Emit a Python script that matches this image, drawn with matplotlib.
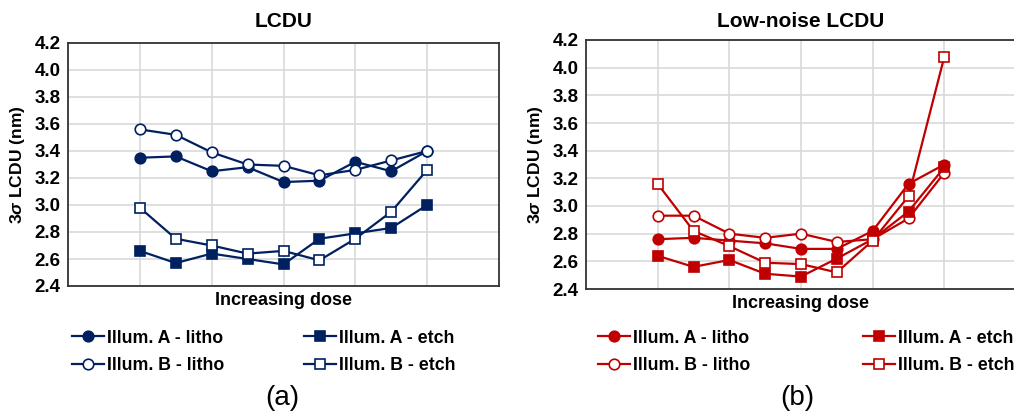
import matplotlib.pyplot as plt

# dose steps (no labels drawn, just positions along the x axis)
dose_steps = list(range(9))

# LCDU panel (nm)
lcdu_a_litho = [3.35, 3.36, 3.25, 3.28, 3.17, 3.18, 3.32, 3.25, 3.40]
lcdu_b_litho = [3.56, 3.52, 3.39, 3.30, 3.29, 3.22, 3.26, 3.33, 3.40]
lcdu_a_etch = [2.66, 2.57, 2.64, 2.60, 2.56, 2.75, 2.79, 2.83, 3.00]
lcdu_b_etch = [2.98, 2.75, 2.70, 2.64, 2.66, 2.59, 2.75, 2.95, 3.26]

# low-noise LCDU panel (nm)
ln_a_litho = [2.76, 2.77, 2.75, 2.73, 2.69, 2.69, 2.82, 3.16, 3.30]
ln_b_litho = [2.93, 2.93, 2.80, 2.77, 2.80, 2.74, 2.76, 2.91, 3.24]
ln_a_etch = [2.64, 2.56, 2.61, 2.51, 2.49, 2.62, 2.76, 2.96, 3.28]
ln_b_etch = [3.16, 2.82, 2.71, 2.59, 2.58, 2.52, 2.75, 3.07, 4.08]

series_labels = ['Illum. A - litho', 'Illum. B - litho', 'Illum. A - etch', 'Illum. B - etch']
y_ticks = [2.4, 2.6, 2.8, 3.0, 3.2, 3.4, 3.6, 3.8, 4.0, 4.2]

plt.rcParams['font.family'] = 'Liberation Sans'
plt.rcParams['mathtext.fontset'] = 'custom'
plt.rcParams['mathtext.rm'] = 'Liberation Sans:bold'
plt.rcParams['mathtext.it'] = 'Liberation Sans:italic:bold'

fig = plt.figure(figsize=(10.14, 4.15), dpi=100)
W, H = 1014, 415


def px_axes(x0, y0, x1, y1):
    return fig.add_axes([x0 / W, 1 - y1 / H, (x1 - x0) / W, (y1 - y0) / H])


def draw_panel(ax, data, color, title, title_pad):
    styles = [('o', color), ('o', 'white'), ('s', color), ('s', 'white')]
    handles = []
    for vals, (mk, face), lab in zip(data, styles, series_labels):
        h, = ax.plot(dose_steps, vals, color=color, lw=1.6, marker=mk,
                     markersize=7.6 if mk == 'o' else 7.0, markerfacecolor=face,
                     markeredgecolor=color, markeredgewidth=1.2, label=lab,
                     zorder=3)
        handles.append(h)
    ax.set_xlim(-2, 10)
    ax.set_ylim(2.4, 4.2)
    ax.set_yticks(y_ticks)
    ax.set_yticklabels(['%.1f' % t for t in y_ticks], fontsize=13.5, fontweight='bold')
    ax.set_xticks([0, 2, 4, 6, 8])
    ax.set_xticklabels([])
    ax.tick_params(length=0, pad=5.5)
    ax.grid(True, color='#d9d9d9', lw=1.2)
    ax.set_axisbelow(True)
    for s in ax.spines.values():
        s.set_color('#333333')
        s.set_linewidth(1.3)
    ax.set_title(title, fontsize=15, fontweight='bold', pad=title_pad)
    ax.set_xlabel('Increasing dose', fontsize=13, fontweight='bold', labelpad=-1)
    ax.set_ylabel(r'3$\sigma$ LCDU (nm)', fontsize=12.6, fontweight='bold', labelpad=5)
    return handles


ax1 = px_axes(68, 43, 499, 286)
h1 = draw_panel(ax1, [lcdu_a_litho, lcdu_b_litho, lcdu_a_etch, lcdu_b_etch],
                '#002060', 'LCDU', 11.5)

ax2 = px_axes(586, 40, 1016, 289)
h2 = draw_panel(ax2, [ln_a_litho, ln_b_litho, ln_a_etch, ln_b_etch],
                '#c00000', 'Low-noise LCDU', 9.4)

leg_kw = dict(loc='center left', frameon=False, borderpad=0, borderaxespad=0,
              handlelength=1.8, handletextpad=0.15, labelspacing=0.6,
              prop={'size': 12.8, 'weight': 'bold'})
for hs, xs in [(h1, (72, 304)), (h2, (598, 863))]:
    fig.legend(hs[:2], series_labels[:2], bbox_to_anchor=(xs[0] / W, 1 - 352 / H), **leg_kw)
    fig.legend(hs[2:], series_labels[2:], bbox_to_anchor=(xs[1] / W, 1 - 352 / H), **leg_kw)

fig.text(282 / W, 1 - 398 / H, '(a)', ha='center', va='center', fontsize=20)
fig.text(797 / W, 1 - 398 / H, '(b)', ha='center', va='center', fontsize=20)

fig.savefig('out.png', dpi=100)
